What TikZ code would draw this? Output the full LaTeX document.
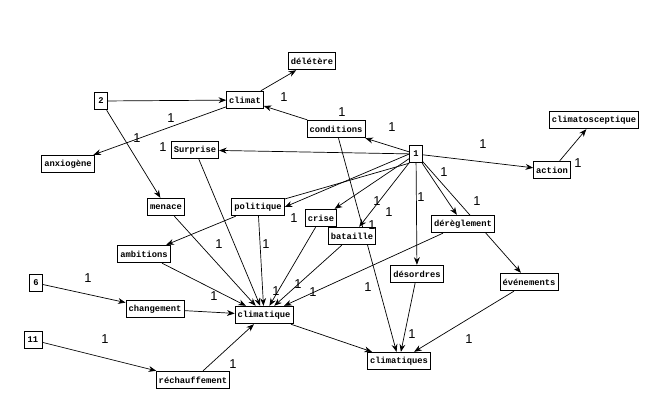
\documentclass[tikz,border=0pt]{standalone}
\usepackage{fontspec}
\newfontfamily\boxfont{Liberation Mono}
\newfontfamily\weightfont{Liberation Sans}
\usetikzlibrary{arrows.meta,backgrounds}

\tikzset{
  word/.style={draw, fill=white, line width=0.7pt,
    font=\boxfont\bfseries\fontsize{7.5}{8}\selectfont,
    inner xsep=2.2pt, inner ysep=0pt, minimum height=15pt},
  num/.style={word, inner xsep=3.2pt},
  link/.style={-{Stealth[length=6.5pt,width=5pt]}, line width=0.6pt},
  plain/.style={line width=0.6pt},
  weight/.style={font=\weightfont\fontsize{11}{11}\selectfont, inner sep=0pt}
}

\begin{document}
\begin{tikzpicture}[x=0.03cm, y=-0.03cm]
\useasboundingbox (0,0) rectangle (657,410);


% Part A: Words


% Top row
\node[word] (deletere)  at (312,61)  {délétère};
\node[num]  (two)       at (101,101) {2};
\node[word] (climat)    at (245,100) {climat};
\node[word] (conditions) at (336,129) {conditions};
\node[word] (sceptique) at (594,120) {climatosceptique};
\node[num]  (one)       at (416,154) {1};
\node[word] (action)    at (552,170) {action};
\node[word] (anxiogene) at (68,164)  {anxiogène};
\node[word] (surprise)  at (195,150) {Surprise};

% Middle row
\node[word] (menace)     at (166,207) {menace};
\node[word] (politique)  at (258,207) {politique};
\node[word] (crise)      at (321,218) {crise};
\node[word] (bataille)   at (352,236) {bataille};
\node[word] (dereglement) at (463,224) {dérèglement};
\node[word] (ambitions)  at (144,254) {ambitions};
\node[word] (desordres)  at (417,274) {désordres};
\node[word] (evenements) at (529,282) {événements};

% Bottom row
\node[num]  (six)         at (36,283)  {6};
\node[word] (changement)  at (155,309) {changement};
\node[word] (climatique)  at (264,315) {climatique};
\node[num]  (eleven)      at (33,340)  {11};
\node[word] (rechauffement) at (193,380) {réchauffement};
\node[word] (climatiques) at (399,361) {climatiques};


% Part B: Links


\begin{scope}[on background layer]
% from 2
\draw[link] (two) -- (climat);
\draw[link] (two) -- (menace);

% around climat
\draw[link] (climat) -- (deletere);
\draw[link] (climat) -- (anxiogene);
\draw[link] (conditions) -- (climat);
\draw[link] (conditions) -- (climatiques);

% from 1
\draw[link] (one) -- (conditions);
\draw[link] (one) -- (surprise);
\draw[link] (one) -- (action);
\draw[link] (one.west) -- (politique.east);
\draw[plain] (one.south west) -- ([yshift=-1pt]politique.north east);
\draw[link] (one) -- (crise);
\draw[link] (one) -- (bataille);
\draw[link] (one) -- (desordres);
\draw[link] (one) -- (dereglement);
\draw[link] (one) -- (evenements);
\draw[link] (action) -- (sceptique);

% into climatique
\draw[link] (surprise) -- (climatique);
\draw[link] (menace) -- (climatique);
\draw[link] (politique) -- (climatique);
\draw[link] (politique) -- (ambitions);
\draw[link] (ambitions) -- (climatique);
\draw[link] (crise) -- (climatique);
\draw[link] (bataille) -- (climatique);
\draw[link] (dereglement) -- (climatique);
\draw[link] (six) -- (changement);
\draw[link] (changement) -- (climatique);
\draw[link] (eleven) -- (rechauffement);
\draw[link] (rechauffement) -- (climatique);

% into climatiques
\draw[link] (climatique) -- (climatiques);
\draw[link] (desordres) -- (climatiques);
\draw[link] (evenements) -- (climatiques);
\end{scope}


% Part C: Weights


\foreach \x/\y [count=\i] in {284/97, 171/118, 137/138, 163/147, 342/112,
    392/127, 483/144, 578/163, 444/172, 421/197, 377/201, 389/212, 477/201,
    372/225, 294/218, 219/244, 266/244, 88/278, 214/296, 276/291, 298/284,
    313/292, 368/287, 412/334, 469/339, 105/339, 233/364}
  \node[weight] (w\i) at (\x,\y) {1};

\end{tikzpicture}
\end{document}
